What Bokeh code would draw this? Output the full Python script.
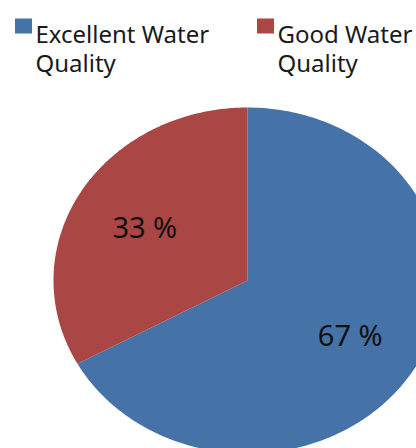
import numpy as np
from bokeh.plotting import figure
from bokeh.models import Range1d
from bokeh.core.properties import value
from bokeh.embed import file_html
from bokeh.resources import INLINE

# ---- data ----
categories = ["Excellent Water Quality", "Good Water Quality"]
legend_lines = [["Excellent Water", "Quality"], ["Good Water", "Quality"]]
values = [67, 33]
colors = ["#4572A7", "#AA4643"]

# ---- layout (pixel coordinates, y downwards) ----
W, H = 416, 448
cx, cy = 247, 280
rx, ry = 194, 173
label_frac = 0.615
FONT = "Noto Sans"

p = figure(width=W, height=H, output_backend="svg", toolbar_location=None,
           x_range=Range1d(0, W), y_range=Range1d(H, 0),
           min_border=0, min_border_left=0, min_border_right=0,
           min_border_top=0, min_border_bottom=0)
p.axis.visible = False
p.grid.visible = False
p.outline_line_color = None
p.background_fill_color = "white"
p.border_fill_color = "white"

total = float(sum(values))
start = 0.0
lab_x, lab_y, lab_t = [], [], []
xs, ys = [], []
for v in values:
    frac = v / total
    end = start + frac * 2 * np.pi
    th = np.linspace(start, end, 200)
    px = np.concatenate([[cx], cx + rx * np.sin(th), [cx]])
    py = np.concatenate([[cy], cy - ry * np.cos(th), [cy]])
    xs.append(px.tolist())
    ys.append(py.tolist())
    mid = (start + end) / 2
    lab_x.append(cx + label_frac * rx * np.sin(mid))
    lab_y.append(cy - label_frac * ry * np.cos(mid))
    lab_t.append(f"{v} %")
    start = end

p.patches(xs=xs, ys=ys, fill_color=colors, line_color=None)

p.text(x=lab_x, y=lab_y, text=lab_t, text_font=value(FONT), text_font_size="29px",
       text_color="#111111", text_align="center", text_baseline="middle")

# ---- legend ----
leg_x = [23, 265]
sq_y = 25.5
for i, lines in enumerate(legend_lines):
    p.rect(x=[leg_x[i]], y=[sq_y], width=17, height=15, fill_color=colors[i], line_color=None)
    for j, line in enumerate(lines):
        p.text(x=[leg_x[i] + 12], y=[33 + 29 * j], text=[line], text_font=value(FONT),
               text_font_size="24px", text_color="#1a1a1a", text_align="left",
               text_baseline="alphabetic")

open("out.html", "w").write(file_html(p, INLINE))
